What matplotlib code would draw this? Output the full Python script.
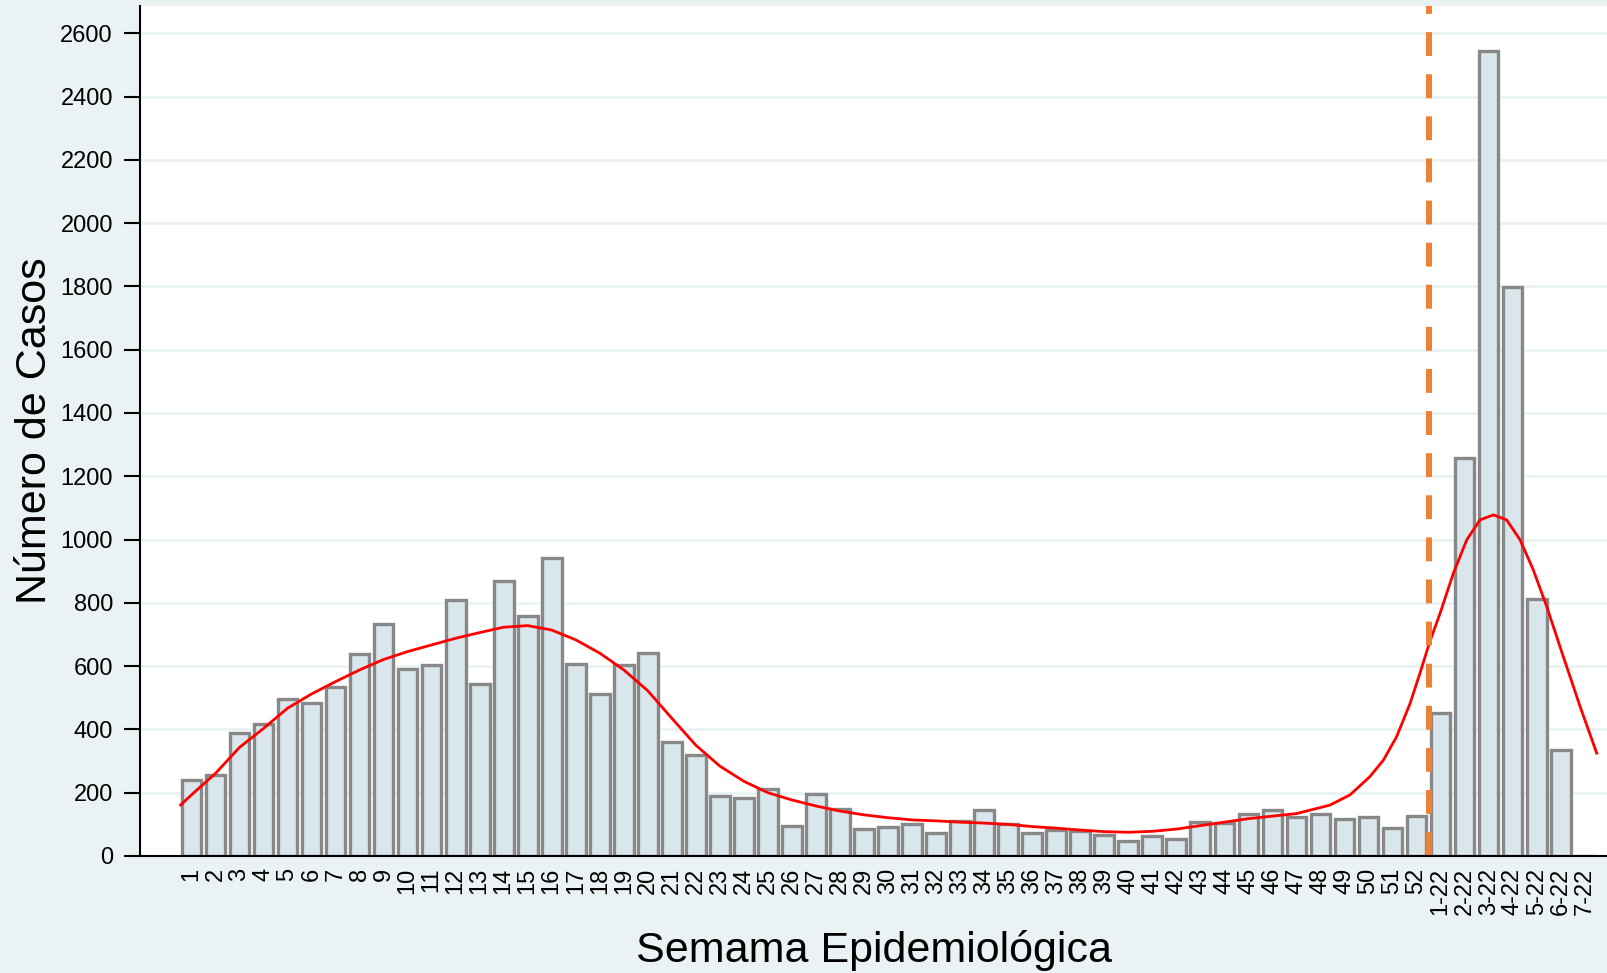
import numpy as np
import matplotlib
matplotlib.use("Agg")
import matplotlib.pyplot as plt

plt.rcParams['font.family'] = ['Liberation Sans', 'DejaVu Sans']

# weekly case counts: weeks 1-52, then weeks 1-7 of 2022
labels = [str(i) for i in range(1, 53)] + ['%d-22' % i for i in range(1, 8)]
casos = [240, 256, 388, 416, 495, 485, 533, 637, 732, 590,
         604, 809, 544, 868, 759, 943, 608, 512, 605, 640,
         361, 319, 191, 182, 212, 95, 197, 149, 85, 92,
         100, 74, 111, 144, 101, 72, 81, 80, 66, 46,
         62, 54, 107, 104, 134, 146, 123, 134, 116, 123,
         90, 126,
         452, 1257, 2543, 1797, 811, 334, 0]

# smoothed trend (x in bar-index units)
curva_x = [-0.45, 0, 1, 2, 3, 4, 5, 6, 7, 8, 9, 10, 11, 12, 13, 14, 15, 16, 17, 18,
           19, 20, 21, 22, 23, 24, 25, 26, 27, 28, 29, 30, 31, 32, 33, 34, 35, 36, 37,
           38, 39, 40, 41, 42, 43, 44, 45, 46, 47.4, 48.23, 49.06, 49.62, 50.17, 50.73,
           51.14, 51.53, 51.98, 52.53, 53.09, 53.64, 54.2, 54.75, 55.31, 55.86, 56.42,
           57.11, 57.81, 58.5]
curva_y = [161, 193, 261, 343, 403, 467, 512, 551, 588, 621, 646, 667, 688, 706, 723,
           728, 714, 683, 641, 588, 522, 435, 350, 284, 236, 200, 177, 158, 142, 130,
           121, 114, 111, 107, 104, 100, 93, 88, 82, 77, 75, 78, 85, 96, 107, 118, 126,
           134, 161, 193, 251, 303, 377, 482, 577, 672, 767, 893, 999, 1062, 1078, 1062,
           999, 904, 788, 630, 472, 325]

corte = 51.5  # between week 52 and 1-22

fig = plt.figure(figsize=(16.08, 9.73), dpi=100, facecolor='#EAF2F3')
ax = fig.add_axes([140/1608, 1 - 856/973, 1468/1608, 850/973])
ax.set_facecolor('white')

x = np.arange(len(labels))
ax.bar(x, casos, width=0.82, color='#D9E6EC', edgecolor='#888888', linewidth=2.4, zorder=2)
ax.plot(curva_x, curva_y, color='red', linewidth=2.0, zorder=3)
ax.axvline(corte, color='#EE8033', linewidth=4.3, dashes=(4.0, 3.05), zorder=4)

ax.set_xlim(-2.14, 58.97)
ax.set_ylim(0, 2686)
ax.set_yticks(np.arange(0, 2601, 200))
ax.yaxis.grid(True, color='#EAF2F3', linewidth=2.0, zorder=0)
ax.set_axisbelow(True)

ax.set_xticks(x)
ax.set_xticklabels(labels, rotation=90, va='top', ha='center')
ax.tick_params(axis='x', length=0, pad=8.6, labelsize=17)
ax.tick_params(axis='y', length=11.5, width=1.5, pad=8, labelsize=17)

for s in ['top', 'right']:
    ax.spines[s].set_visible(False)
for s in ['left', 'bottom']:
    ax.spines[s].set_linewidth(1.5)
    ax.spines[s].set_zorder(5)

ax.set_xlabel('Semama Epidemiológica', fontsize=31)
ax.xaxis.set_label_coords(0.5, -0.1106)
ax.xaxis.label.set_verticalalignment('center')
ax.set_ylabel('Número de Casos', fontsize=31)
ax.yaxis.set_label_coords(-0.0715, 0.5)
ax.yaxis.label.set_verticalalignment('center')

fig.savefig('out.png', dpi=100, facecolor=fig.get_facecolor())
